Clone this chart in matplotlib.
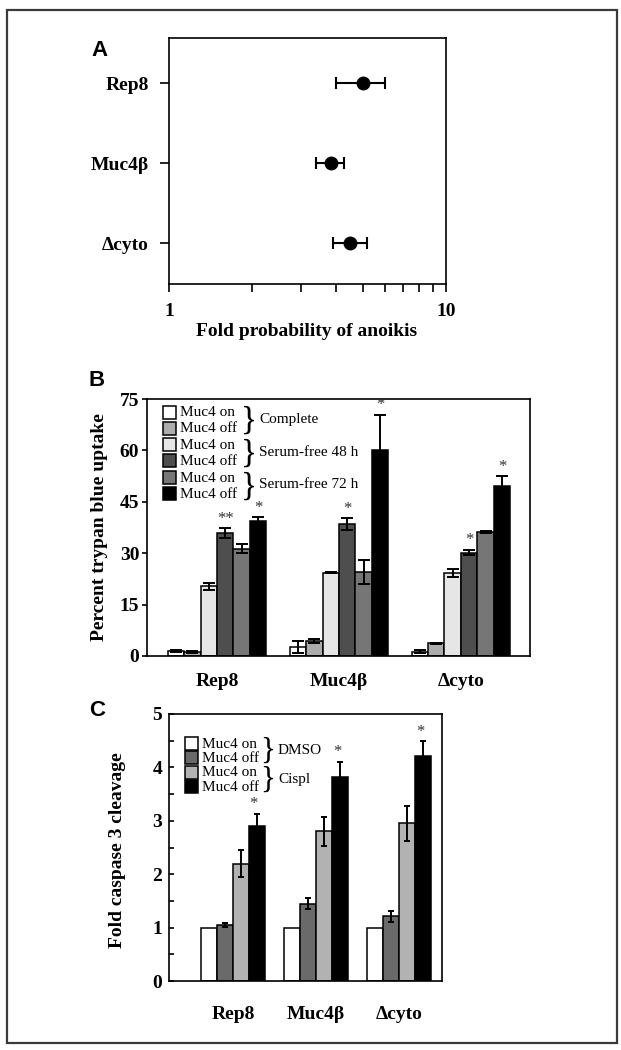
import matplotlib
matplotlib.use('Agg')
import matplotlib.pyplot as plt
import numpy as np
from matplotlib.patches import Rectangle
from matplotlib.transforms import Affine2D
from matplotlib.ticker import FixedLocator, NullFormatter

# ---------------- data ----------------
cell_lines = ['Rep8', 'Muc4β', 'Δcyto']

# Panel A: fold probability of anoikis
anoikis_fold = [5.0, 3.85, 4.5]
anoikis_low = [4.0, 3.4, 3.9]
anoikis_high = [6.0, 4.3, 5.2]

# Panel B: percent trypan blue uptake (order: on/off Complete, on/off SF48, on/off SF72)
trypan_series = ['Muc4 on', 'Muc4 off', 'Muc4 on', 'Muc4 off', 'Muc4 on', 'Muc4 off']
trypan_conditions = ['Complete', 'Serum-free 48 h', 'Serum-free 72 h']
trypan_rep8 = [1.4, 1.2, 20.4, 35.8, 31.3, 39.4]
trypan_muc4b = [2.6, 4.4, 24.3, 38.5, 24.5, 60.1]
trypan_dcyto = [1.3, 3.7, 24.3, 30.2, 36.3, 49.6]
trypan_rep8_err = [0.3, 0.4, 1.0, 1.5, 1.3, 1.1]
trypan_muc4b_err = [1.8, 0.7, 0.1, 1.7, 3.6, 10.3]
trypan_dcyto_err = [0.4, 0.2, 1.2, 0.8, 0.3, 2.9]
trypan_stars_rep8 = ['', '', '', '**', '', '*']
trypan_stars_muc4b = ['', '', '', '*', '', '*']
trypan_stars_dcyto = ['', '', '', '*', '', '*']
trypan_yticks = [0, 15, 30, 45, 60, 75]

# Panel C: fold caspase 3 cleavage (order: on/off DMSO, on/off Cispl)
casp_series = ['Muc4 on', 'Muc4 off', 'Muc4 on', 'Muc4 off']
casp_conditions = ['DMSO', 'Cispl']
casp_rep8 = [1.0, 1.05, 2.2, 2.9]
casp_muc4b = [1.0, 1.45, 2.8, 3.82]
casp_dcyto = [1.0, 1.21, 2.95, 4.22]
casp_rep8_err = [0.0, 0.03, 0.25, 0.23]
casp_muc4b_err = [0.0, 0.1, 0.28, 0.29]
casp_dcyto_err = [0.0, 0.1, 0.32, 0.27]
casp_stars = ['*', '*', '*']
casp_yticks = [0, 1, 2, 3, 4, 5]

# ---------------- style ----------------
W, H, DPI = 621, 1050, 100
SERIF = ['Liberation Serif', 'DejaVu Serif']
SANS = ['Liberation Sans', 'DejaVu Sans']
plt.rcParams['font.family'] = SERIF
plt.rcParams['axes.linewidth'] = 1.2

trypan_colors = ['#ffffff', '#acacac', '#e6e6e6', '#4e4e4e', '#767676', '#000000']
casp_colors = ['#ffffff', '#6a6a6a', '#b2b2b2', '#000000']

fig = plt.figure(figsize=(W / DPI, H / DPI), dpi=DPI)
fig.patch.set_facecolor('white')
# image-pixel coordinate transform (origin top-left)
px = Affine2D().scale(1.0 / W, -1.0 / H).translate(0, 1) + fig.transFigure


def axes_px(left, right, top, bottom):
    return fig.add_axes([left / W, 1 - bottom / H, (right - left) / W, (bottom - top) / H])


# outer frame
fig.add_artist(Rectangle((7, 1043), 610, -1033, transform=px, fill=False,
                         lw=1.6, ec='#3a3a3a'))

# ================= Panel A =================
axA = axes_px(169, 446, 38, 284)
ypos = np.arange(len(cell_lines))[::-1]
fold = np.array(anoikis_fold)
xerr = [fold - np.array(anoikis_low), np.array(anoikis_high) - fold]
axA.errorbar(fold, ypos, xerr=xerr, fmt='o', color='black', ms=9,
             capsize=4, elinewidth=1.5, capthick=1.5)
axA.set_xscale('log')
axA.set_xlim(1, 10)
axA.set_ylim(-0.51, 2.5625)
axA.xaxis.set_major_locator(FixedLocator([1, 10]))
axA.xaxis.set_minor_locator(FixedLocator([2, 3, 4, 5, 6, 7, 8, 9]))
axA.xaxis.set_minor_formatter(NullFormatter())
axA.set_xticklabels(['1', '10'])
axA.set_yticks(ypos)
axA.set_yticklabels(cell_lines)
axA.tick_params(axis='x', which='both', direction='out', length=6, width=1.2, pad=8)
axA.tick_params(axis='y', direction='out', length=6.5, width=1.2, pad=8)
for lab in axA.get_xticklabels() + axA.get_yticklabels():
    lab.set_fontsize(14)
    lab.set_fontweight('bold')
fig.text(307, 331, 'Fold probability of anoikis', transform=px, ha='center', va='center',
         fontsize=14, fontweight='bold')
fig.text(100, 51, 'A', transform=px, ha='center', va='center', fontsize=16,
         fontweight='bold', family=SANS)

# ================= Panel B =================
axB = axes_px(147, 530, 399, 656)
tv = np.array([trypan_rep8, trypan_muc4b, trypan_dcyto])
te = np.array([trypan_rep8_err, trypan_muc4b_err, trypan_dcyto_err])
tstars = [trypan_stars_rep8, trypan_stars_muc4b, trypan_stars_dcyto]
groups = np.arange(len(cell_lines))
bw = 0.135
nser = len(trypan_series)
for i in range(nser):
    xs = groups + (i - (nser - 1) / 2) * bw
    axB.bar(xs, tv[:, i], width=bw, color=trypan_colors[i], edgecolor='black',
            linewidth=1.1, zorder=2)
    axB.errorbar(xs, tv[:, i], yerr=te[:, i], fmt='none', ecolor='black',
                 elinewidth=1.4, capsize=4, capthick=1.4, zorder=3)
    for g in groups:
        s = tstars[g][i]
        if s:
            axB.annotate(s, xy=(xs[g], tv[g, i] + te[g, i]), xytext=(0, 1),
                         textcoords='offset points', ha='center', va='bottom',
                         fontsize=12, color='#333333')
axB.set_xlim(-0.574, 2.566)
axB.set_ylim(0, 75)
axB.set_yticks(trypan_yticks)
axB.set_xticks(groups)
axB.set_xticklabels(cell_lines)
axB.tick_params(axis='x', length=0, pad=12)
axB.tick_params(axis='y', direction='out', length=3.5, width=1.2, pad=2)
for lab in axB.get_xticklabels() + axB.get_yticklabels():
    lab.set_fontsize(14)
    lab.set_fontweight('bold')
fig.text(100, 527, 'Percent trypan blue uptake', transform=px, ha='center', va='center',
         rotation=90, fontsize=14, fontweight='bold')
fig.text(97, 381, 'B', transform=px, ha='center', va='center', fontsize=16,
         fontweight='bold', family=SANS)

# legend B
rowsB = [412, 428, 444.5, 460.5, 477, 493]
for i, (lab, col) in enumerate(zip(trypan_series, trypan_colors)):
    fig.add_artist(Rectangle((163, rowsB[i] + 6.5), 13, -13, transform=px,
                             fc=col, ec='black', lw=1.1))
    fig.text(180, rowsB[i] + 1, lab, transform=px, ha='left', va='center', fontsize=11)
for k, cond in enumerate(trypan_conditions):
    yc = (rowsB[2 * k] + rowsB[2 * k + 1]) / 2
    fig.text(249, yc + 1, '}', transform=px, ha='center', va='center', fontsize=24,
             fontweight='light')
    fig.text(259, yc, cond, transform=px, ha='left', va='center', fontsize=11)

# ================= Panel C =================
axC = axes_px(169, 442, 714, 981)
cv = np.array([casp_rep8, casp_muc4b, casp_dcyto])
ce = np.array([casp_rep8_err, casp_muc4b_err, casp_dcyto_err])
bwc = 0.19
nc = len(casp_series)
for i in range(nc):
    xs = groups + (i - (nc - 1) / 2) * bwc
    axC.bar(xs, cv[:, i], width=bwc, color=casp_colors[i], edgecolor='black',
            linewidth=1.1, zorder=2)
    has = ce[:, i] > 0
    if has.any():
        axC.errorbar(xs[has], cv[has, i], yerr=ce[has, i], fmt='none', ecolor='black',
                     elinewidth=1.4, capsize=2.5, capthick=1.4, zorder=3)
xs_last = groups + (nc - 1 - (nc - 1) / 2) * bwc
for g in groups:
    axC.annotate(casp_stars[g], xy=(xs_last[g], cv[g, -1] + ce[g, -1]), xytext=(-2, 1),
                 textcoords='offset points', ha='center', va='bottom',
                 fontsize=12, color='#333333')
axC.set_xlim(-0.771, 2.518)
axC.set_ylim(0, 5)
axC.set_yticks(casp_yticks)
axC.yaxis.set_minor_locator(FixedLocator(np.arange(0.5, 5, 1.0)))
axC.set_xticks(groups)
axC.set_xticklabels(cell_lines)
axC.tick_params(axis='x', length=0, pad=18)
axC.tick_params(axis='y', which='both', direction='in', length=3.5, width=1.2, pad=5)
for lab in axC.get_xticklabels() + axC.get_yticklabels():
    lab.set_fontsize(14)
    lab.set_fontweight('bold')
fig.text(117, 850, 'Fold caspase 3 cleavage', transform=px, ha='center', va='center',
         rotation=90, fontsize=14, fontweight='bold')
fig.text(97, 711, 'C', transform=px, ha='center', va='center', fontsize=16,
         fontweight='bold', family=SANS)

# legend C
rowsC = [743, 757.5, 772, 786.5]
for i, (lab, col) in enumerate(zip(casp_series, casp_colors)):
    fig.add_artist(Rectangle((185, rowsC[i] + 6.5), 13, -13, transform=px,
                             fc=col, ec='black', lw=1.1))
    fig.text(202, rowsC[i] + 1, lab, transform=px, ha='left', va='center', fontsize=11)
for k, cond in enumerate(casp_conditions):
    yc = (rowsC[2 * k] + rowsC[2 * k + 1]) / 2
    fig.text(268, yc + 1, '}', transform=px, ha='center', va='center', fontsize=22,
             fontweight='light')
    fig.text(278, yc, cond, transform=px, ha='left', va='center', fontsize=11)

fig.savefig('out.png', dpi=DPI, facecolor='white')
